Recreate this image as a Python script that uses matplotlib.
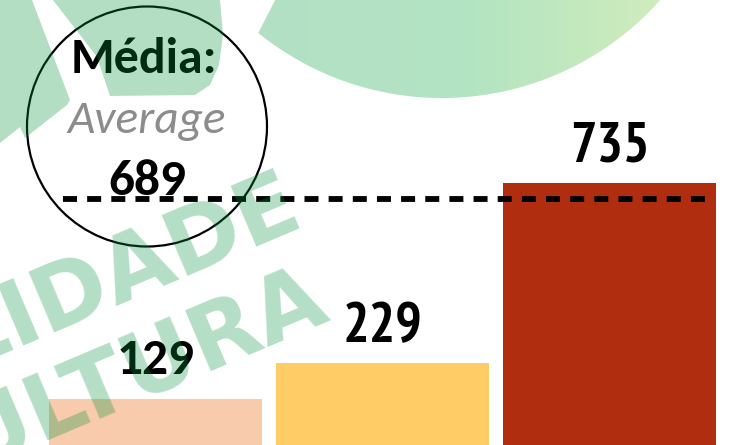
import numpy as np
import matplotlib
matplotlib.use("Agg")
import matplotlib.pyplot as plt
from matplotlib.patches import Circle, Polygon
from matplotlib import font_manager as fm


def first_bold(names):
    for name in names:
        if any(f.name == name and int(f.weight) >= 700 for f in fm.fontManager.ttflist):
            return name
    return "DejaVu Sans"


# bar values and styling
values = [129, 229, 735]
bar_colors = ["#F7CBAC", "#FFCC66", "#B02E0F"]
CAL = ["Carlito", "Lato", "DejaVu Sans"]
NARROW = [first_bold(["Archivo Narrow", "PT Sans Narrow", "Roboto Condensed"]), "DejaVu Sans"]
label_fonts = [CAL, NARROW, NARROW]
label_sizes = [37, 40, 40]
label_gaps = [18, 15.5, 15.5]          # points above bar top to baseline

AVG = 689
avg_title = "Média:"
avg_subtitle = "Average"

wm_words = ["QUALIDADE", "CULTURA"]
WM_GREEN = "#06933E"

W, H = 739, 445
fig = plt.figure(figsize=(W / 100, H / 100), dpi=100)

# bars
ax = fig.add_axes([0, 0, 1, 1])
x = np.arange(len(values))
ax.bar(x, values, width=0.938, color=bar_colors, zorder=2)
ax.set_xlim(-0.685, 2.570)
ax.set_ylim(0, 1248)
ax.axis("off")

for i, v in enumerate(values):
    ax.annotate(str(v), (x[i], v), xytext=(0, label_gaps[i]),
                textcoords="offset points", ha="center", va="baseline",
                fontsize=label_sizes[i], fontweight="bold",
                family=label_fonts[i], color="black", zorder=4)

# dashed average line
ax.plot([-0.407, 2.421], [AVG, AVG], color="black", lw=4.2,
        dashes=(2.4, 1.74), dash_capstyle="butt", zorder=3)

# overlay in pixel coordinates for the callout and the watermark
ov = fig.add_axes([0, 0, 1, 1])
ov.axis("off")

# gradient disc at the top right
th = np.deg2rad(np.linspace(160, 520, 721))
cx, cy, r = 442, -194, 292
px, py = cx + r * np.cos(th), cy + r * np.sin(th)
p1, d = np.array([258, 33]), np.array([17, -33])
keep = d[0] * (py - p1[1]) - d[1] * (px - p1[0]) > 0
disc = Polygon(np.column_stack([px[keep], py[keep]]), closed=True,
               facecolor="none", edgecolor="none", transform=ov.transData)
ov.add_patch(disc)
grad = np.linspace(0, 1, 256)[None, :]
cmap = matplotlib.colors.LinearSegmentedColormap.from_list(
    "wm", [(0, "#B2E0C5"), (0.45, "#B3E4C2"), (1, "#DCEFBA")])
im = ov.imshow(grad, cmap=cmap, extent=(250, 740, 110, -5), aspect="auto",
               interpolation="bilinear", zorder=1)
im.set_clip_path(disc)

# average callout
ov.add_patch(Circle((147, 126.5), 120, facecolor="none", edgecolor="black",
                    lw=1.6, zorder=2))
ov.text(144, 73, avg_title, ha="center", va="baseline", fontsize=36,
        fontweight="bold", family=CAL, color="black")
ov.text(147, 133, avg_subtitle, ha="center", va="baseline", fontsize=34,
        style="italic", family=CAL, color="#8C8C8C")
ov.text(147.5, 195, str(AVG), ha="center", va="baseline", fontsize=37,
        fontweight="bold", family=CAL, color="black")

# watermark shapes and lettering (translucent, drawn over everything)
shape_a = [(0, 0), (32, 0), (70, 100), (67, 105), (25, 138), (20, 127), (0, 143)]
shape_b = [(53, 0), (220, 0), (223, 35), (219, 65), (210, 85), (195, 95),
           (110, 96), (97, 57)]
for pts in (shape_a, shape_b):
    ov.add_patch(Polygon(pts, closed=True, facecolor=WM_GREEN, alpha=0.3,
                         edgecolor="none", zorder=10))

for word, (wx, wy) in zip(wm_words, [(306, 224), (332, 318)]):
    ov.text(wx, wy, word, ha="right", va="baseline", rotation=23,
            rotation_mode="anchor", fontsize=65, fontweight="bold",
            family="DejaVu Sans", color=WM_GREEN, alpha=0.3, zorder=10)

ov.set_xlim(0, W)
ov.set_ylim(H, 0)

fig.savefig("out.png", dpi=100)
